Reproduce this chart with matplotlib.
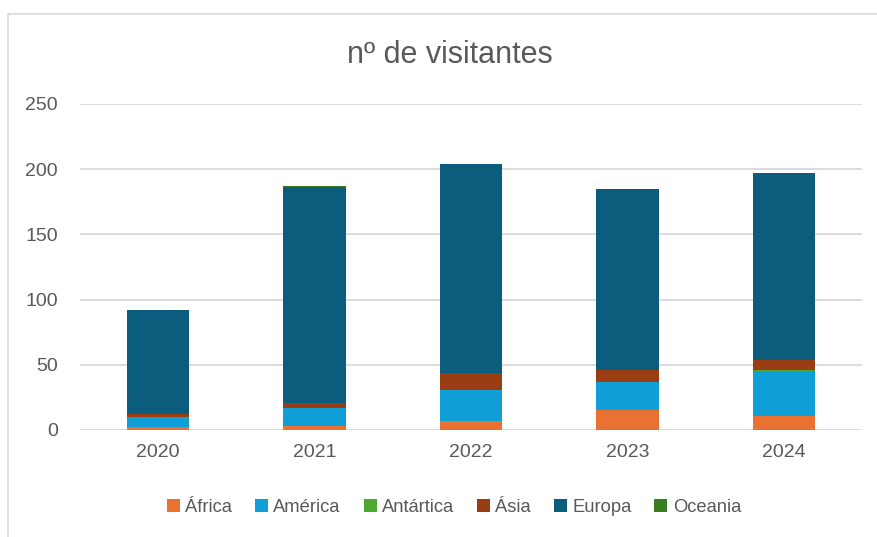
import matplotlib.pyplot as plt
import matplotlib.patches as patches
import numpy as np

anos = ["2020", "2021", "2022", "2023", "2024"]
africa = [2, 3, 7, 15, 11]
america = [8, 14, 24, 22, 34]
antartica = [0, 0, 0, 0, 1]
asia = [2, 4, 13, 9, 8]
europa = [80, 165, 160, 139, 143]
oceania = [0, 1, 0, 0, 0]

series = [("África", africa, "#E97132"),
          ("América", america, "#0F9ED5"),
          ("Antártica", antartica, "#4EA72E"),
          ("Ásia", asia, "#9A3D12"),
          ("Europa", europa, "#0C5C7E"),
          ("Oceania", oceania, "#3B7D23")]

plt.rcParams['font.family'] = ['Liberation Sans', 'DejaVu Sans']
txt = "#595959"

fig = plt.figure(figsize=(8.78, 5.37), dpi=100)
ax = fig.add_axes([80/878, 1-430/537, 782/878, 326/537])

# chart border (cropped at right/bottom in the reference)
fig.patches.append(patches.Rectangle((8/878, -0.1), 1.2, 1-14/537+0.1,
                                     transform=fig.transFigure, fill=False,
                                     edgecolor="#d9d9d9", lw=1.2))

x = np.arange(len(anos))
bottom = np.zeros(len(anos))
for nome, vals, cor in series:
    ax.bar(x, vals, 0.4, bottom=bottom, color=cor, label=nome, zorder=3,
           linewidth=0)
    bottom += np.array(vals)

ax.set_xlim(-0.5, 4.5)
ax.set_ylim(0, 250)
ax.set_yticks(range(0, 251, 50))
ax.set_xticks(x)
ax.set_xticklabels(anos)
ax.yaxis.grid(True, color="#d9d9d9", lw=1.3, zorder=0)
for s in ax.spines.values():
    s.set_visible(False)
ax.tick_params(length=0, labelsize=14, colors=txt)
ax.tick_params(axis="y", pad=16)
ax.tick_params(axis="x", pad=10)

fig.text(450/878, 1-55/537, "nº de visitantes", ha="center", va="center",
         fontsize=22, color=txt)

ax.legend(loc="center", bbox_to_anchor=(454/878, 1-507/537),
          bbox_transform=fig.transFigure, ncol=6, frameon=False,
          fontsize=13.2, labelcolor=txt, handlelength=0.7, handleheight=0.7,
          handletextpad=0.3, columnspacing=1.25)

fig.savefig("out.png", dpi=100)
